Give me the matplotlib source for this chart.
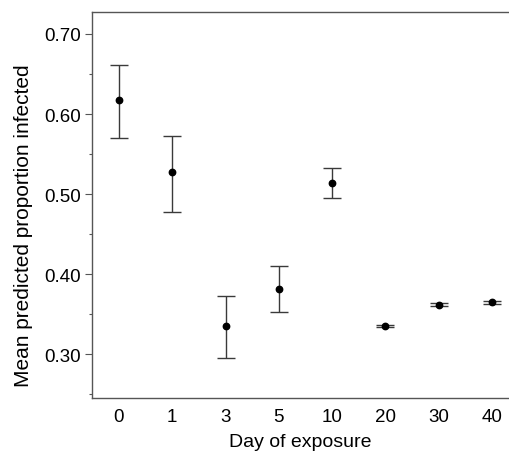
import matplotlib.pyplot as plt
from matplotlib.ticker import MultipleLocator
import numpy as np

plt.rcParams['font.family'] = ['Liberation Sans', 'DejaVu Sans']

days = ['0', '1', '3', '5', '10', '20', '30', '40']
mean = [0.617, 0.527, 0.335, 0.382, 0.514, 0.335, 0.362, 0.365]
upper = [0.661, 0.573, 0.373, 0.410, 0.532, 0.336, 0.364, 0.367]
lower = [0.570, 0.478, 0.295, 0.353, 0.495, 0.334, 0.360, 0.363]

x = np.arange(len(days))
mean_arr = np.array(mean)
yerr = [mean_arr - np.array(lower), np.array(upper) - mean_arr]

fig = plt.figure(figsize=(5.09, 4.52), dpi=100)
ax = fig.add_axes([0.1813, 0.1173, 0.8187, 0.8533])

ax.errorbar(x, mean, yerr=yerr, fmt='o', color='black', ms=4.6,
            ecolor='#3a3a3a', elinewidth=1.0, capsize=6.3, capthick=1.0)

ax.set_xlim(-0.5, 7.32)
ax.set_ylim(0.2455, 0.727)
ax.set_xticks(x)
ax.set_xticklabels(days)
ax.yaxis.set_minor_locator(MultipleLocator(0.05))
ax.set_yticks([0.3, 0.4, 0.5, 0.6, 0.7])
ax.set_yticklabels(['0.30', '0.40', '0.50', '0.60', '0.70'])

ax.spines['right'].set_visible(False)
for s in ['left', 'top', 'bottom']:
    ax.spines[s].set_color('#555555')
    ax.spines[s].set_linewidth(1.0)

ax.tick_params(axis='x', length=0, pad=7, labelsize=13.5)
ax.tick_params(axis='y', which='major', length=5, width=0.8, color='#555555', pad=3, labelsize=13.5)
ax.tick_params(axis='y', which='minor', length=2.5, width=0.8, color='#555555')

ax.set_xlabel('Day of exposure', fontsize=14, labelpad=6)
ax.set_ylabel('Mean predicted proportion infected', fontsize=15)
ax.yaxis.set_label_coords(-0.143, 0.45)

fig.savefig('out.png', dpi=100)
